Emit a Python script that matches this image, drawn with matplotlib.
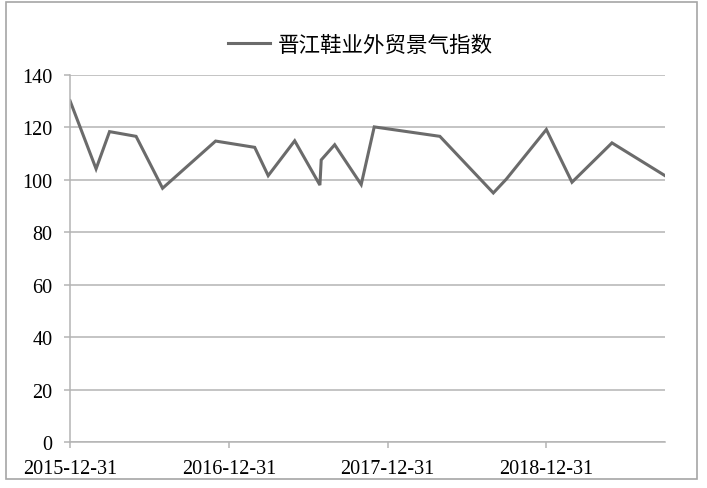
import matplotlib
matplotlib.use("Agg")
import matplotlib.pyplot as plt
import matplotlib.dates as mdates
from matplotlib.patches import Rectangle
import numpy as np
import pandas as pd

# 晋江鞋业外贸景气指数
dates = ["2015-12-31", "2016-02-29", "2016-03-31", "2016-05-31", "2016-07-31",
         "2016-11-30", "2017-02-28", "2017-03-31", "2017-05-31", "2017-07-28",
         "2017-07-31", "2017-08-31", "2017-10-31", "2017-11-30", "2018-04-30",
         "2018-08-31", "2018-09-30", "2018-12-31", "2019-02-28", "2019-05-31",
         "2019-09-30"]
values = [130.2, 104.2, 118.4, 116.6, 96.8,
          114.8, 112.4, 101.6, 114.9, 98.0,
          107.6, 113.4, 98.2, 120.2, 116.6,
          95.0, 100.3, 119.2, 99.1, 114.1,
          101.6]
tick_dates = ["2015-12-31", "2016-12-31", "2017-12-31", "2018-12-31"]
yticks = [0, 20, 40, 60, 80, 100, 120, 140]
label = "晋江鞋业外贸景气指数"

x = pd.to_datetime(dates)
xt = pd.to_datetime(tick_dates)

line_col = "#6b6b6b"
grid_col = "#b4b4b4"

fig = plt.figure(figsize=(7.07, 4.89), dpi=100)
ax = fig.add_axes([70 / 707, 1 - 443 / 489, 595 / 707, 367 / 489])

ax.plot(x, values, color=line_col, lw=2.2, label=label, solid_joinstyle="miter")

ax.set_ylim(0, 140)
ax.set_yticks(yticks)
ax.set_xlim(x[0], x[-1])
ax.set_xticks(xt)
ax.xaxis.set_major_formatter(mdates.DateFormatter("%Y-%m-%d"))

for lab in ax.get_xticklabels() + ax.get_yticklabels():
    lab.set_fontfamily("Liberation Serif")
    lab.set_fontsize(14.5)
    lab.set_color("#000000")

ax.yaxis.grid(True, color=grid_col, lw=1.1)
ax.set_axisbelow(True)
for s in ["top", "right"]:
    ax.spines[s].set_visible(False)
for s in ["left", "bottom"]:
    ax.spines[s].set_color(grid_col)
    ax.spines[s].set_linewidth(1.1)
ax.tick_params(axis="both", color=grid_col, length=4.5, width=1.1)
ax.tick_params(axis="y", pad=8)
ax.tick_params(axis="x", pad=7.5)

fig.legend(loc="center", bbox_to_anchor=(360 / 707, 1 - 46 / 489), frameon=False,
           prop={"family": ["Noto Sans CJK SC", "DejaVu Sans"], "size": 15.5},
           handlelength=1.95, handletextpad=0.37)

fig.patches.append(Rectangle((6 / 707, 1 - 480 / 489), 691 / 707, 477 / 489,
                             transform=fig.transFigure, fill=False,
                             edgecolor="#a6a6a6", lw=1.2))

fig.savefig("out.png", dpi=100)
